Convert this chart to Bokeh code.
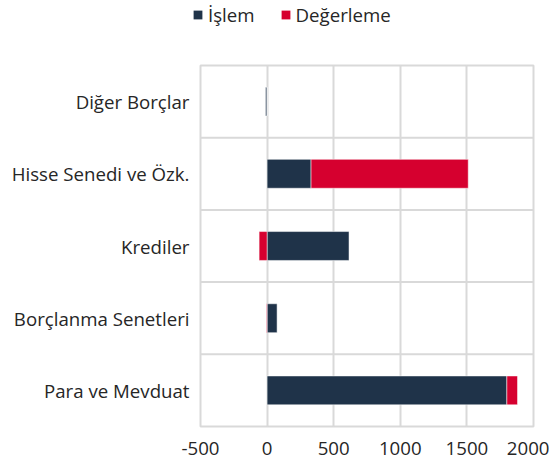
from bokeh.plotting import figure
from bokeh.layouts import column, row
from bokeh.models import ColumnDataSource, Legend, LegendItem, Span, FixedTicker
from bokeh.embed import file_html
from bokeh.resources import INLINE

categories = ["Para ve Mevduat", "Borçlanma Senetleri", "Krediler", "Hisse Senedi ve Özk.", "Diğer Borçlar"]
islem = [1800, 75, 615, 330, -12]
degerleme = [80, -5, -60, 1180, 0]
x_ticks = [-500, 0, 500, 1000, 1500, 2000]
series_names = ["İşlem", "Değerleme"]

NAVY = "#1f3349"
RED = "#d6002f"
GRID = "#d9d9d9"
TEXT = "#262626"
FONT = "Open Sans"
FS = "18.67px"

# stack positives and negatives separately
i_left, i_right, d_left, d_right = [], [], [], []
for a, b in zip(islem, degerleme):
    pos, neg = 0, 0
    if a >= 0:
        i_left.append(pos); i_right.append(pos + a); pos += a
    else:
        i_left.append(neg + a); i_right.append(neg); neg += a
    if b >= 0:
        d_left.append(pos); d_right.append(pos + b); pos += b
    else:
        d_left.append(neg + b); d_right.append(neg); neg += b

src = ColumnDataSource(dict(y=categories, il=i_left, ir=i_right, dl=d_left, dr=d_right))

W = 549
LEG_H = 40

p = figure(width=W, height=417, y_range=categories, x_range=(-500, 2000),
           output_backend="svg", toolbar_location=None,
           min_border_left=200, min_border_right=16, min_border_top=25, min_border_bottom=10)

r1 = p.hbar(y="y", left="il", right="ir", height=0.4, source=src,
            fill_color=NAVY, line_color="white", line_width=0.5)
r2 = p.hbar(y="y", left="dl", right="dr", height=0.4, source=src,
            fill_color=RED, line_color="white", line_width=0.5)

for loc in [1, 2, 3, 4]:
    p.add_layout(Span(location=loc, dimension="width", line_color=GRID, line_width=2, level="underlay"))

p.xaxis.ticker = FixedTicker(ticks=x_ticks)
p.xaxis.major_label_overrides = {t: str(t) for t in x_ticks}
p.xgrid.ticker = FixedTicker(ticks=x_ticks)
p.xgrid.grid_line_color = GRID
p.xgrid.grid_line_width = 2
p.ygrid.grid_line_color = None

p.outline_line_color = GRID
p.outline_line_width = 2

for ax in (p.xaxis, p.yaxis):
    ax.axis_line_color = None
    ax.major_tick_line_color = None
    ax.minor_tick_line_color = None
    ax.major_label_text_font = FONT
    ax.major_label_text_font_size = FS
    ax.major_label_text_color = TEXT
p.xaxis.major_label_standoff = 9
p.yaxis.major_label_standoff = 5

# legend figure on top
lf = figure(width=W, height=LEG_H, x_range=(0, 1), y_range=(0, 1),
            output_backend="svg", toolbar_location=None,
            min_border=0, outline_line_color=None)
lf.axis.visible = False
lf.grid.visible = False
dummy = ColumnDataSource(dict(y=[-10], l=[-10], r=[-9]))
d1 = lf.hbar(y="y", left="l", right="r", height=1, source=dummy, fill_color=NAVY, line_color=None)
d2 = lf.hbar(y="y", left="l", right="r", height=1, source=dummy, fill_color=RED, line_color=None)
legend = Legend(items=[LegendItem(label=series_names[0], renderers=[d1]),
                       LegendItem(label=series_names[1], renderers=[d2])],
                orientation="horizontal", location=(192, 13),
                glyph_width=11, glyph_height=11, label_standoff=5, spacing=25,
                padding=0, margin=0, border_line_color=None, background_fill_alpha=0,
                label_text_font=FONT, label_text_font_size=FS, label_text_color=TEXT,
                label_height=11)
lf.add_layout(legend, "center")

layout = column(row(lf), p, spacing=0)
open("out.html", "w").write(file_html(layout, INLINE))
